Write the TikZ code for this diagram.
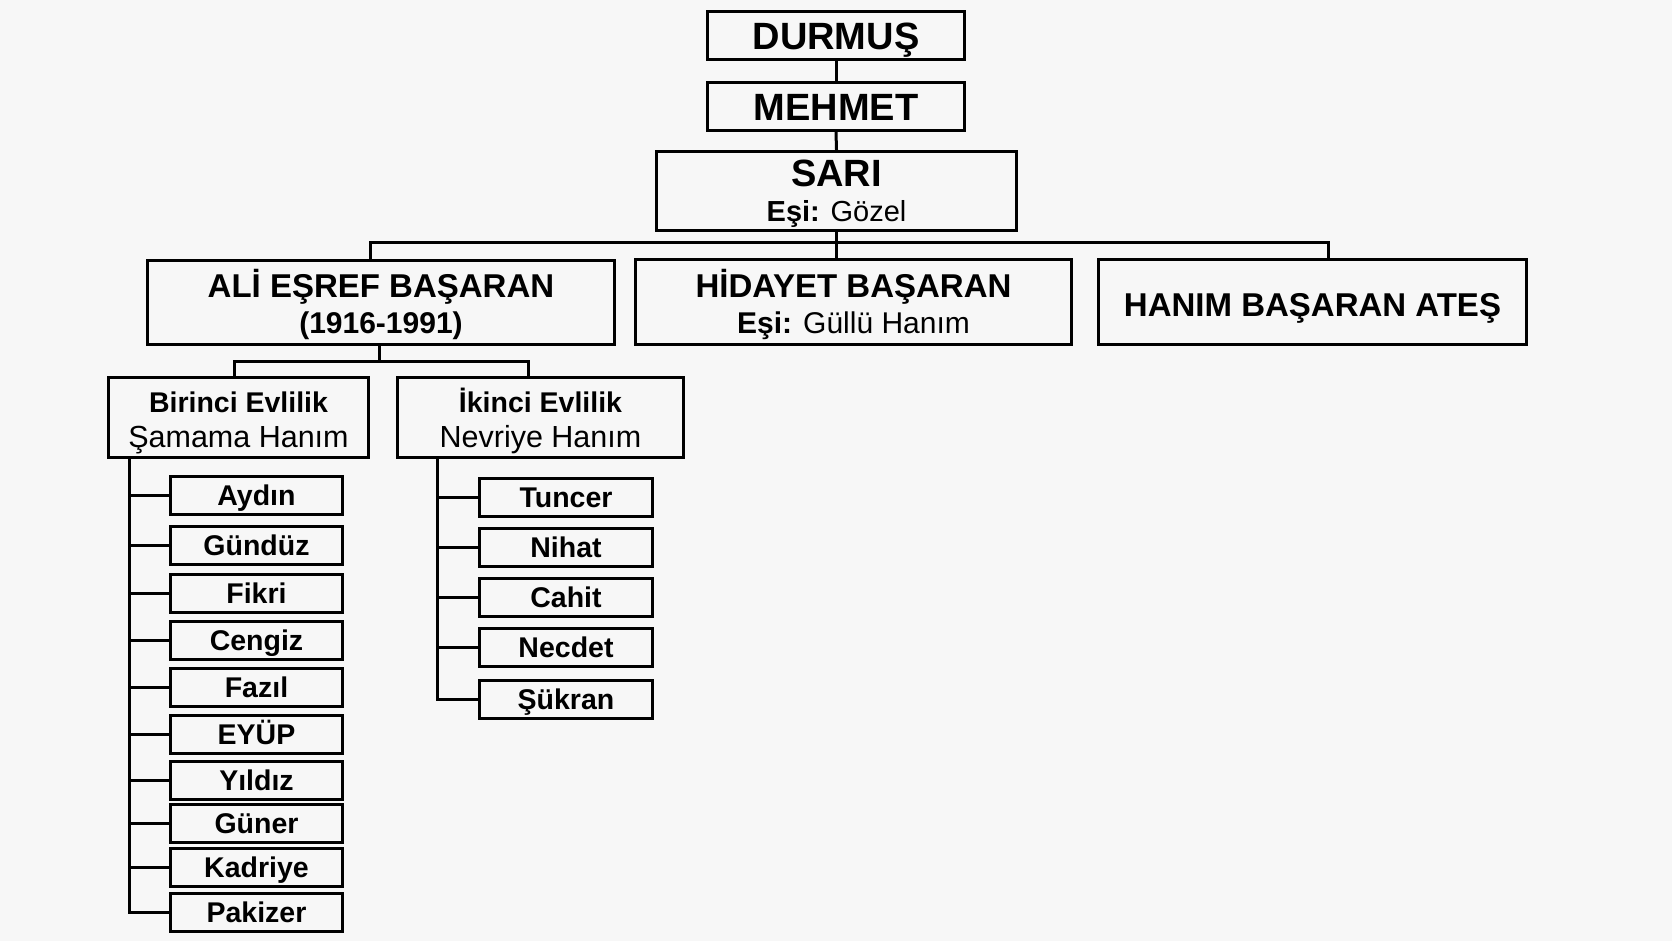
\documentclass[tikz,border=0pt]{standalone}
\usepackage{fontspec}
\setmainfont{Liberation Sans}
\begin{document}
\begin{tikzpicture}[x=1pt,y=-1pt,
  box/.style={draw, line width=3pt, inner sep=0pt, align=center, text depth=0pt},
  conn/.style={line width=3pt},
  topname/.style={box, font=\fontsize{38}{35}\selectfont\bfseries},
  genname/.style={box, font=\fontsize{33}{36}\selectfont\bfseries},
  subname/.style={box, text height=59pt, font=\fontsize{28.5}{35}\selectfont\bfseries},
  child/.style={box, minimum height=38pt, text height=20.4pt, font=\fontsize{28.5}{30}\selectfont\bfseries}
]
\fill[white!97!black] (0,0) rectangle (1672,941);
\useasboundingbox (0,0) rectangle (1672,941);

% top line
\node[topname, text height=27.2pt, minimum width=257pt, minimum height=48pt] (durmus) at (836,35.5) {DURMUŞ};
\node[topname, text height=27.2pt, minimum width=257pt, minimum height=48pt] (mehmet) at (836,106.5) {MEHMET};
\node[topname, text height=62pt, minimum width=360pt, minimum height=79pt] (sari) at (836.5,191)
  {SARI\\{\fontsize{29}{35}\selectfont Eşi: \mdseries Gözel}};

% second generation
\node[genname, text height=61pt, minimum width=467pt, minimum height=84pt] (ali) at (381,302.5)
  {ALİ EŞREF BAŞARAN\\{\fontsize{30}{36}\selectfont (1916-1991)}};
\node[genname, text height=62pt, minimum width=436pt, minimum height=85pt] (hidayet) at (853.5,302)
  {HİDAYET BAŞARAN\\{\fontsize{30}{36}\selectfont Eşi: \mdseries Güllü Hanım}};
\node[genname, text height=29.6pt, minimum width=428pt, minimum height=85pt] (hanim) at (1312.5,302)
  {HANIM BAŞARAN ATEŞ};

% marriages
\node[subname, minimum width=260pt, minimum height=80pt] (birinci) at (238.5,417.5)
  {Birinci Evlilik\\{\mdseries\fontsize{30.5}{35}\selectfont Şamama Hanım}};
\node[subname, minimum width=286pt, minimum height=80pt] (ikinci) at (540.5,417.5)
  {İkinci Evlilik\\{\mdseries\fontsize{30.5}{35}\selectfont Nevriye Hanım}};

% children of first marriage
\node[child, minimum width=172pt] (c1) at (256.5,495.5) {Aydın};
\node[child, minimum width=172pt] (c2) at (256.5,545) {Gündüz};
\node[child, minimum width=172pt] (c3) at (256.5,593) {Fikri};
\node[child, minimum width=172pt] (c4) at (256.5,640.5) {Cengiz};
\node[child, minimum width=172pt] (c5) at (256.5,687) {Fazıl};
\node[child, minimum width=172pt] (c6) at (256.5,734) {EYÜP};
\node[child, minimum width=172pt] (c7) at (256.5,780) {Yıldız};
\node[child, minimum width=172pt] (c8) at (256.5,823.5) {Güner};
\node[child, minimum width=172pt] (c9) at (256.5,867.5) {Kadriye};
\node[child, minimum width=172pt] (c10) at (256.5,912.5) {Pakizer};

% children of second marriage
\node[child, minimum width=173pt] (d1) at (566,497) {Tuncer};
\node[child, minimum width=173pt] (d2) at (566,547.5) {Nihat};
\node[child, minimum width=173pt] (d3) at (566,597) {Cahit};
\node[child, minimum width=173pt] (d4) at (566,647) {Necdet};
\node[child, minimum width=173pt] (d5) at (566,699.5) {Şükran};

% connectors
\coordinate (busL) at (370,243);
\coordinate (busR) at (1328,243);
\coordinate (subbus) at (379,361);
\coordinate (subL) at (234,361);
\coordinate (subR) at (528,361);
\coordinate (trunkL) at (129,0);
\coordinate (trunkR) at (437,0);

\draw[conn] (durmus.south) -- (mehmet.north);
\draw[conn] (mehmet.south) -- (sari.north);
\draw[conn] (sari.south) -- (sari.south |- hidayet.north);
\draw[conn] (busL |- ali.north) -- (busL) -- (busR) -- (busR |- hanim.north);
\draw[conn] (subbus |- ali.south) -- (subbus);
\draw[conn] (subL |- birinci.north) -- (subL) -- (subR) -- (subR |- ikinci.north);

\draw[conn] (trunkL |- birinci.south) -- (trunkL |- c10.west) -- (c10.west);
\foreach \n in {c1,c2,c3,c4,c5,c6,c7,c8,c9}
  \draw[conn] (trunkL |- \n.west) -- (\n.west);
\draw[conn] (trunkR |- ikinci.south) -- (trunkR |- d5.west) -- (d5.west);
\foreach \n in {d1,d2,d3,d4}
  \draw[conn] (trunkR |- \n.west) -- (\n.west);
\end{tikzpicture}
\end{document}
